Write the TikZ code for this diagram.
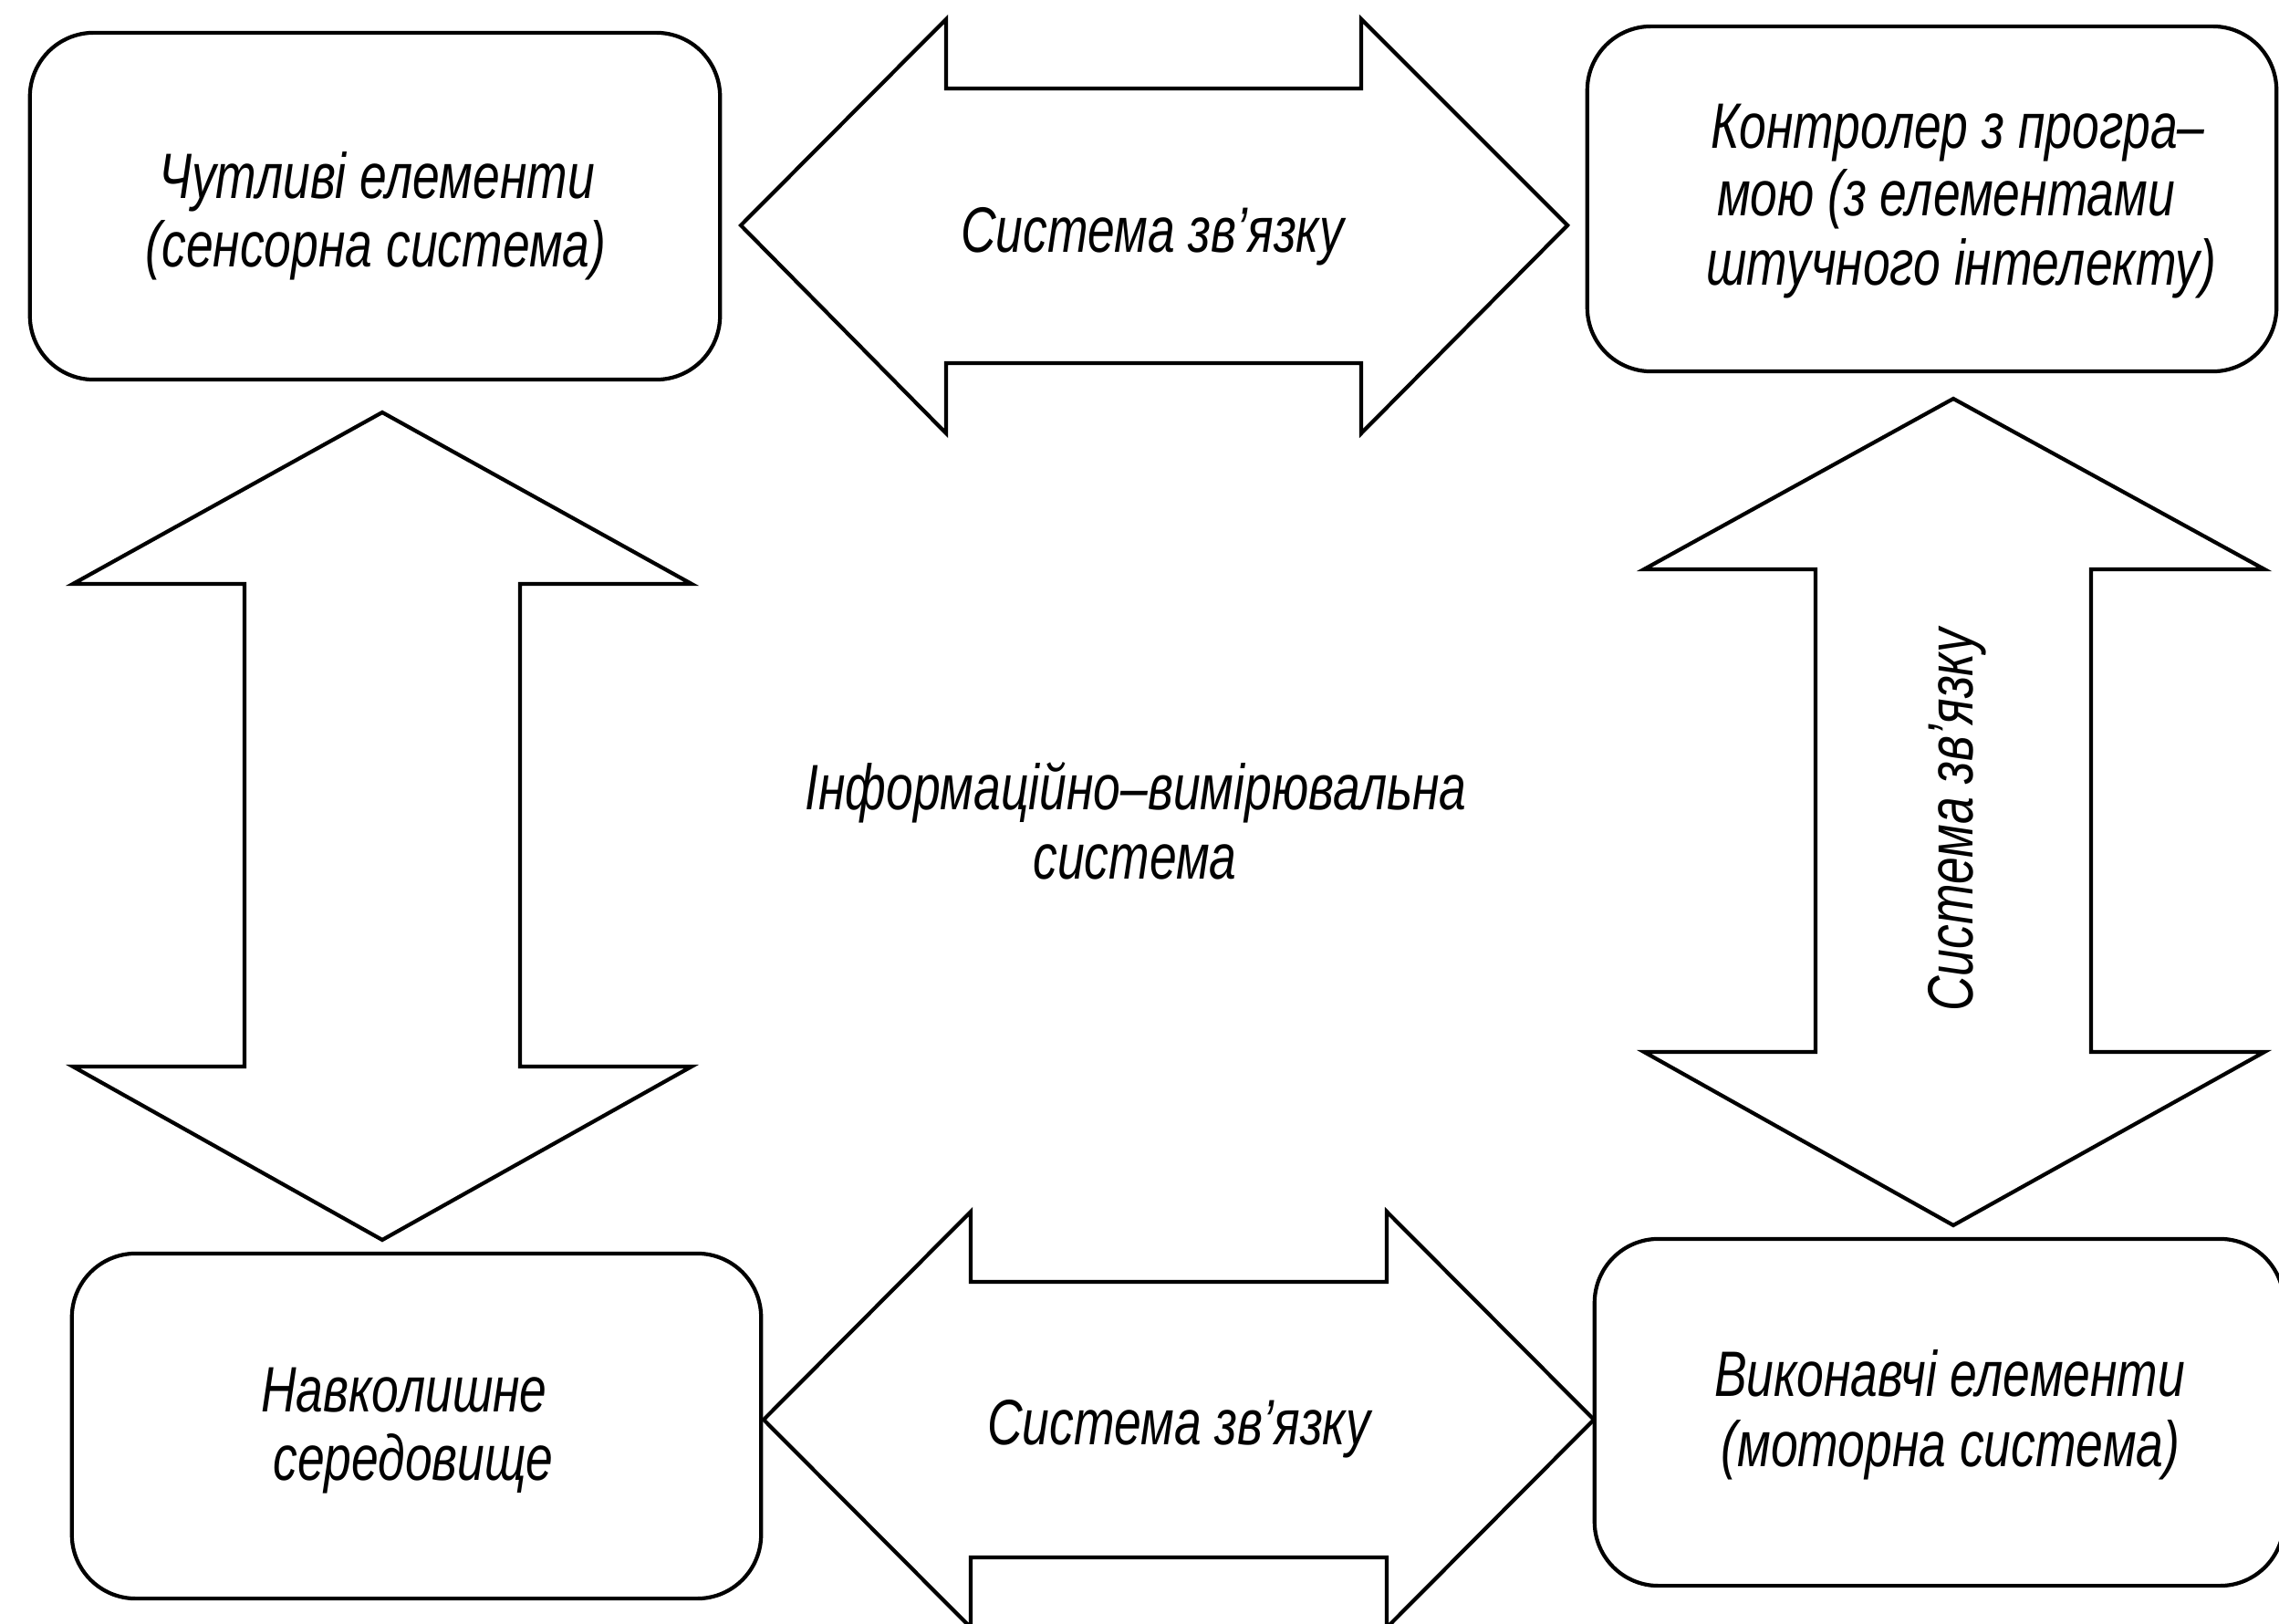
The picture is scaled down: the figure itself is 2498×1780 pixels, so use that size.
\documentclass[tikz,border=0pt]{standalone}
\usepackage{fontspec}
\setmainfont{Liberation Sans}[FakeStretch=0.76]
\begin{document}
\begin{tikzpicture}[x=0.01cm,y=-0.01cm,
  box/.style={draw, line width=1.2pt, rounded corners=0.7cm, inner sep=0pt},
  bigarrow/.style={draw, line width=1.2pt, line join=miter},
  lbl/.style={font=\itshape\fontsize{20}{24}\selectfont, inner sep=0pt, anchor=base}]
\clip (0,0) rectangle (2498,1780);
\fill[white] (0,0) rectangle (2498,1780);
% boxes
\node[box, minimum width=7.56cm, minimum height=3.80cm] (sens) at (411,226) {};
\node[box, minimum width=7.55cm, minimum height=3.78cm] (ctrl) at (2117.5,218) {};
\node[box, minimum width=7.55cm, minimum height=3.78cm] (env) at (456.5,1563) {};
\node[box, minimum width=7.55cm, minimum height=3.80cm] (act) at (2125.5,1548) {};
% double arrows
\draw[bigarrow] (812,247) -- (1037,21) -- (1037,97) -- (1492,97) -- (1492,21) -- (1718,247)
  -- (1492,475) -- (1492,398) -- (1037,398) -- (1037,475) -- cycle;
\draw[bigarrow] (419,452) -- (758,640) -- (570,640) -- (570,1169) -- (758,1169) -- (419,1359)
  -- (80,1169) -- (268,1169) -- (268,640) -- (80,640) -- cycle;
\draw[bigarrow] (2141,437) -- (2482,624) -- (2292,624) -- (2292,1153) -- (2482,1153) -- (2141,1343)
  -- (1802,1153) -- (1990,1153) -- (1990,624) -- (1802,624) -- cycle;
\draw[bigarrow] (837,1556) -- (1064,1328) -- (1064,1405) -- (1520,1405) -- (1520,1328) -- (1747,1556)
  -- (1520,1784) -- (1520,1707) -- (1064,1707) -- (1064,1784) -- cycle;
% texts
\node[lbl] (sensA) at (413,218) {Чутливі елементи};
\node[lbl] (sensB) at (412,293) {(сенсорна система)};
\node[lbl] (linkTop) at (1263,277) {Система зв’язку};
\node[lbl] (ctrlA) at (2146,163) {Контролер з програ–};
\node[lbl] (ctrlB) at (2133,237) {мою (з елементами};
\node[lbl] (ctrlC) at (2150,313) {штучного інтелекту)};
\node[lbl] (infoA) at (1245,888) {Інформаційно–вимірювальна};
\node[lbl] (infoB) at (1244,963) {система};
\node[lbl, rotate=90] (linkRight) at (2162,899) {Система зв’язку};
\node[lbl] (envA) at (443,1547) {Навколишне};
\node[lbl] (envB) at (453,1622) {середовище};
\node[lbl] (linkBot) at (1292,1583) {Система зв’язку};
\node[lbl] (actA) at (2137,1530) {Виконавчі елементи};
\node[lbl] (actB) at (2138,1607) {(моторна система)};
\end{tikzpicture}
\end{document}
